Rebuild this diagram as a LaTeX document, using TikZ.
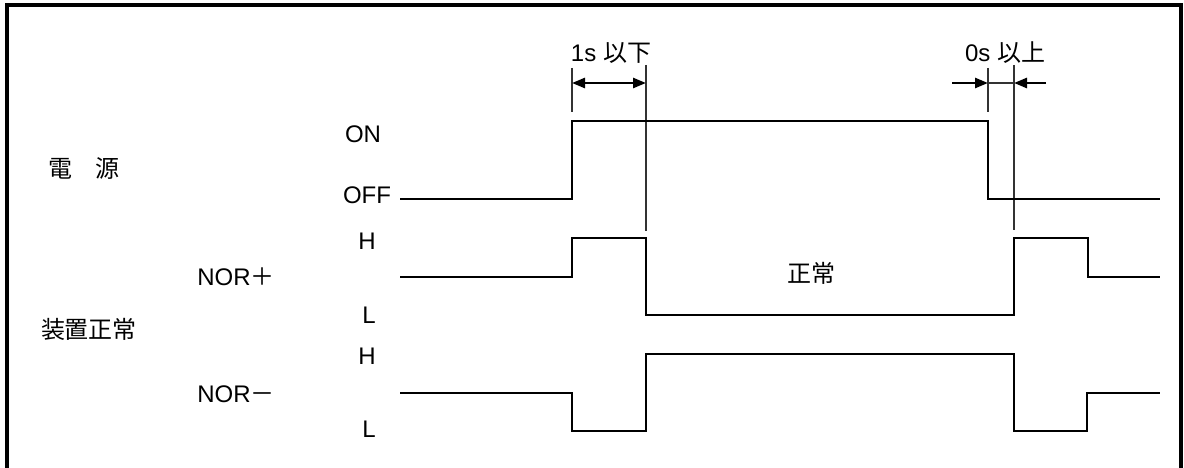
\documentclass[tikz,border=0pt]{standalone}
\usepackage{fontspec}
\setmainfont{Liberation Sans}
\newfontfamily\cjk{Noto Sans CJK JP}
\usetikzlibrary{arrows.meta}
\begin{document}
\begin{tikzpicture}[x=1pt,y=-1pt,
  sig/.style={line width=2.8pt, line join=miter, line cap=butt},
  guide/.style={line width=1.2pt, black!80},
  dimline/.style={line width=2.6pt, -{Triangle[length=13pt,width=10pt]}},
  dimboth/.style={line width=2.6pt, {Triangle[length=13pt,width=10pt]}-{Triangle[length=13pt,width=10pt]}},
  lbl/.style={inner sep=0pt, font=\fontsize{24}{28}\selectfont},
  frame/.style={line width=3.5pt}]
\useasboundingbox (0,0) rectangle (1184,468);
% frame
\draw[frame] (7,470) -- (7,5) -- (1181,5) -- (1181,470);

% guide lines
\coordinate (g1t) at (572,68);  \coordinate (g1b) at (572,112);
\coordinate (g2t) at (646,65);  \coordinate (g2b) at (646,231);
\coordinate (g3t) at (988,68);  \coordinate (g3b) at (988,112);
\coordinate (g4t) at (1014,65); \coordinate (g4b) at (1014,230);
\draw[guide] (g1t) -- (g1b);
\draw[guide] (g2t) -- (g2b);
\draw[guide] (g3t) -- (g3b);
\draw[guide] (g4t) -- (g4b);

% dimension arrows
\coordinate (a1) at (572,83); \coordinate (a2) at (646,83);
\draw[dimboth] (a1) -- (a2);
\coordinate (b0) at (952,83); \coordinate (b1) at (988,83);
\coordinate (b2) at (1014,83); \coordinate (b3) at (1046,83);
\draw[dimline] (b0) -- (b1);
\draw[dimline] (b3) -- (b2);
\draw[guide] (b1) -- (b2);

\node[lbl] (t1) at (611,53) {1s {\cjk 以下}};
\node[lbl] (t2) at (1005,53) {0s {\cjk 以上}};

% power signal
\draw[sig] (400,199) -- (572,199) -- (572,121) -- (988,121) -- (988,199) -- (1160,199);
% NOR+
\draw[sig] (400,277) -- (572,277) -- (572,238) -- (646,238) -- (646,315) -- (1014,315) -- (1014,238) -- (1088,238) -- (1088,277) -- (1160,277);
% NOR-
\draw[sig] (400,393) -- (572,393) -- (572,431) -- (646,431) -- (646,354) -- (1014,354) -- (1014,431) -- (1087,431) -- (1087,393) -- (1160,393);

% level labels
\node[lbl] (on) at (363,134) {ON};
\node[lbl] (off) at (367,195) {OFF};
\node[lbl] (h1) at (367,241) {H};
\node[lbl] (l1) at (369,315) {L};
\node[lbl] (h2) at (367,356) {H};
\node[lbl] (l2) at (369,429) {L};

% signal names
\node[lbl] (pw) at (84,169) {\cjk 電　源};
\node[lbl] (np) at (236,277) {NOR{\cjk ＋}};
\node[lbl] (dev) at (89,329) {\cjk 装置正常};
\node[lbl] (nm) at (236,394) {NOR{\cjk －}};
\node[lbl] (ok) at (811,273) {\cjk 正常};
\end{tikzpicture}
\end{document}
